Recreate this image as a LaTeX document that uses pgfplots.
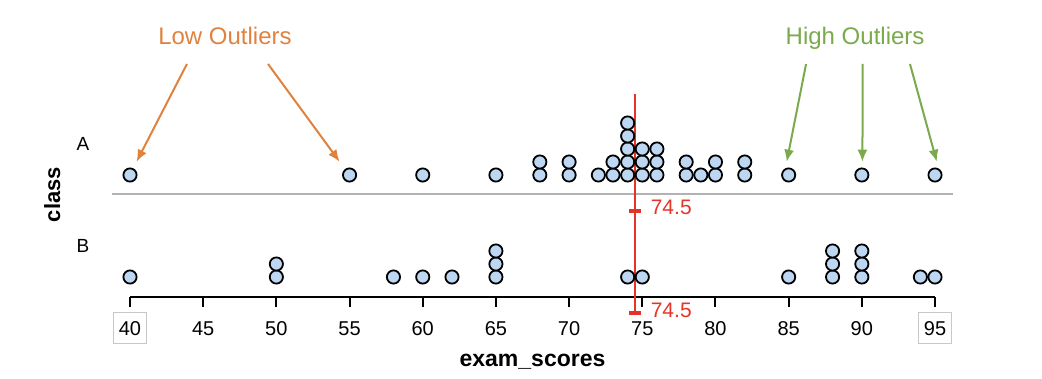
\documentclass[border=0pt]{standalone}
\usepackage{pgfplots}
\pgfplotsset{compat=1.18}
\usepackage{pgfplotstable}
\usepackage{fontspec}
\setmainfont{Liberation Sans}
\usetikzlibrary{arrows.meta}
\definecolor{dotfill}{RGB}{189,215,242}
\definecolor{medred}{RGB}{228,52,40}
\definecolor{loworange}{RGB}{224,130,62}
\definecolor{highgreen}{RGB}{122,170,76}
\definecolor{linegray}{RGB}{178,178,178}
\definecolor{boxgray}{RGB}{200,200,200}
\newcommand\boxlab[1]{{\setlength\fboxsep{2.3pt}\setlength{\fboxrule}{0.8pt}\fcolorbox{boxgray}{white}{\rule[-1.5pt]{0pt}{10pt}#1}}}

% class A: score, stack level
\pgfplotstableread{
x k
40 0
55 0
60 0
65 0
68 0
68 1
70 0
70 1
72 0
73 0
73 1
74 0
74 1
74 2
74 3
74 4
75 0
75 1
75 2
76 0
76 1
76 2
78 0
78 1
79 0
80 0
80 1
82 0
82 1
85 0
90 0
95 0
}\dataA
% class B
\pgfplotstableread{
x k
40 0
50 0
50 1
58 0
60 0
62 0
65 0
65 1
65 2
74 0
75 0
85 0
88 0
88 1
88 2
90 0
90 1
90 2
94 0
95 0
}\dataB

\begin{document}
\begin{tikzpicture}
\begin{axis}[
  scale only axis, width=402.5pt, height=148.5pt,
  xmin=40, xmax=95, ymin=0, ymax=297,
  clip=false,
  axis x line=bottom, axis y line=none,
  x axis line style={-, line width=1pt, black},
  xtick={40,45,...,95},
  xticklabels={\boxlab{40},45,50,55,60,65,70,75,80,85,90,\boxlab{95}},
  major tick length=5pt, tick align=outside,
  tick style={black, line width=1pt},
  xticklabel style={font=\fontsize{10}{12}\selectfont, anchor=base, yshift=-14pt},
]
% gray separator line for class A
\addplot[linegray, line width=1pt] coordinates {(38.77,103) (96.23,103)};
% dots
\addplot[only marks, mark=*, mark size=3.3pt,
  mark options={fill=dotfill, draw=black, line width=0.9pt}]
  table[x=x, y expr=122+13*\thisrow{k}] {\dataA};
\addplot[only marks, mark=*, mark size=3.3pt,
  mark options={fill=dotfill, draw=black, line width=0.9pt}]
  table[x=x, y expr=20+13*\thisrow{k}] {\dataB};
% median
\addplot[medred, line width=1pt] coordinates {(74.5,203) (74.5,-16)};
\addplot[medred, line width=1.8pt] coordinates {(74.09,86) (74.91,86)};
\addplot[medred, line width=1.8pt] coordinates {(74.09,-16) (74.91,-16)};
\node[medred, anchor=base west, font=\fontsize{10.5}{12}\selectfont] at (axis cs:75.1,82) {74.5};
\node[medred, anchor=base west, font=\fontsize{10.5}{12}\selectfont] at (axis cs:75.1,-20) {74.5};
% category labels
\node[anchor=base, font=\fontsize{9.5}{11}\selectfont] at (axis cs:36.79,146) {A};
\node[anchor=base, font=\fontsize{9.5}{11}\selectfont] at (axis cs:36.79,44) {B};
\node[rotate=90, anchor=base, font=\bfseries\fontsize{11}{13}\selectfont] at (axis cs:35.22,102.5) {class};
\node[anchor=base, font=\bfseries\fontsize{11.5}{13}\selectfont] at (axis cs:67.5,-69) {exam\_scores};
% annotations
\node[loworange, anchor=base, font=\fontsize{12}{14}\selectfont] at (axis cs:46.49,252) {Low Outliers};
\node[highgreen, anchor=base, font=\fontsize{12}{14}\selectfont] at (axis cs:89.54,252) {High Outliers};
\draw[loworange, line width=1pt, -{Latex[length=6pt,width=5pt]}] (axis cs:43.89,233) -- (axis cs:40.45,135.3);
\draw[loworange, line width=1pt, -{Latex[length=6pt,width=5pt]}] (axis cs:49.43,233) -- (axis cs:54.32,135.3);
\draw[highgreen, line width=1pt, -{Latex[length=6pt,width=5pt]}] (axis cs:86.19,233) -- (axis cs:84.87,135.3);
\draw[highgreen, line width=1pt, -{Latex[length=6pt,width=5pt]}] (axis cs:90.06,233) -- (axis cs:90.04,135.3);
\draw[highgreen, line width=1pt, -{Latex[length=6pt,width=5pt]}] (axis cs:93.29,233) -- (axis cs:95.12,135.3);
\coordinate (bl) at (axis cs:31.118,-81);
\coordinate (tr) at (axis cs:102.31,297);
\end{axis}
\pgfresetboundingbox
\path[use as bounding box] (bl) rectangle (tr);
\end{tikzpicture}
\end{document}
